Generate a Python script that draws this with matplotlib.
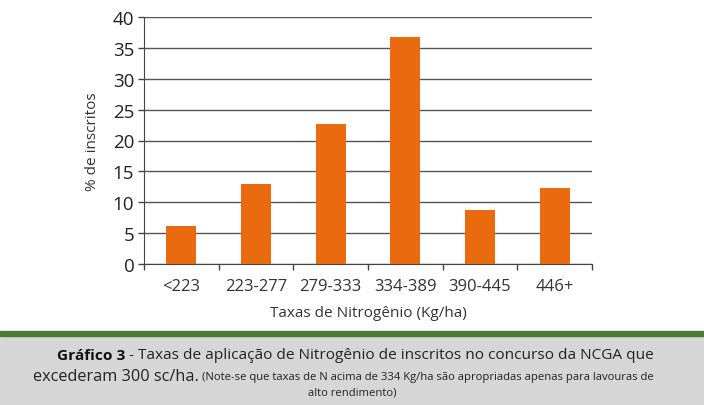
import matplotlib
matplotlib.use("Agg")
import matplotlib.pyplot as plt
from matplotlib.patches import Rectangle
import numpy as np

categories = ["<223", "223-277", "279-333", "334-389", "390-445", "446+"]
values = [6.1, 13.0, 22.7, 36.8, 8.7, 12.3]
yticks = [0, 5, 10, 15, 20, 25, 30, 35, 40]

plt.rcParams['font.family'] = ['Open Sans', 'DejaVu Sans']

W, H = 704, 406
fig = plt.figure(figsize=(W/100, H/100), dpi=100)

ax = fig.add_axes([144/W, 1-265/H, (592-144)/W, (265-18)/H])
x = np.arange(len(categories))
ax.bar(x, values, width=0.4, color="#ea6a10", zorder=3)
ax.set_xlim(-0.5, len(categories)-0.5)
ax.set_ylim(0, 40)
ax.set_yticks(yticks)
ax.set_yticklabels([str(t) for t in yticks], fontsize=13.5, color="#222222")
ax.yaxis.grid(True, color="#555555", linewidth=1.0, zorder=0)
ax.set_xticks(x)
ax.set_xticklabels(categories, fontsize=12, color="#333333")
ax.set_xticks(np.arange(-0.5, len(categories)), minor=True)
ax.tick_params(axis='x', which='major', length=0, pad=10)
ax.tick_params(axis='x', which='minor', length=4, width=1, color="#444444")
ax.tick_params(axis='y', length=4, width=1, color="#444444", pad=3)
for s in ["top", "right"]:
    ax.spines[s].set_visible(False)
ax.spines["left"].set_color("#444444")
ax.spines["bottom"].set_color("#444444")
ax.set_ylabel("% de inscritos", fontsize=11, color="#333333", labelpad=9)
ax.set_xlabel("Taxas de Nitrogênio (Kg/ha)", fontsize=11, color="#333333", labelpad=8)

# caption band
fig.patches.append(Rectangle((0, 0), 1, 1-337/H, transform=fig.transFigure,
                             color="#d6d6d6", zorder=0))
fig.patches.append(Rectangle((0, 1-337/H), 1, 5/H, transform=fig.transFigure,
                             color="#4b7a34", zorder=0))

renderer = fig.canvas.get_renderer()

def width_px(t):
    return t.get_window_extent(renderer=renderer).width

cap = "#222222"
# line 1: spans x 57..648
y1 = 1-356/H
a = fig.text(0, y1, "Gráfico 3", fontsize=12, fontweight='bold', ha='left', va='center', color="#111111")
b = fig.text(0, y1, " - Taxas de aplicação de Nitrogênio de inscritos no concurso da NCGA que",
             fontsize=12, ha='left', va='center', color=cap)
tot = width_px(a) + width_px(b)
fs1 = 12 * 591 / tot
a.set_fontsize(fs1); b.set_fontsize(fs1)
wa = width_px(a)
a.set_x(57/W); b.set_x((57+wa)/W)

# line 2: big part 33..198, small part 202..657
y2 = 1-377/H
c = fig.text(0, y2, "excederam 300 sc/ha.", fontsize=12, ha='left', va='center', color=cap)
d = fig.text(0, y2-1/H, "(Note-se que taxas de N acima de 334 Kg/ha são apropriadas apenas para lavouras de",
             fontsize=8, ha='left', va='center', color=cap)
c.set_fontsize(12 * 165 / width_px(c))
d.set_fontsize(8 * 455 / width_px(d))
c.set_x(33/W); d.set_x(202/W)

e = fig.text(0.5, 1-393/H, "alto rendimento)", fontsize=d.get_fontsize(), ha='center', va='center', color=cap)

fig.savefig("out.png", dpi=100)
